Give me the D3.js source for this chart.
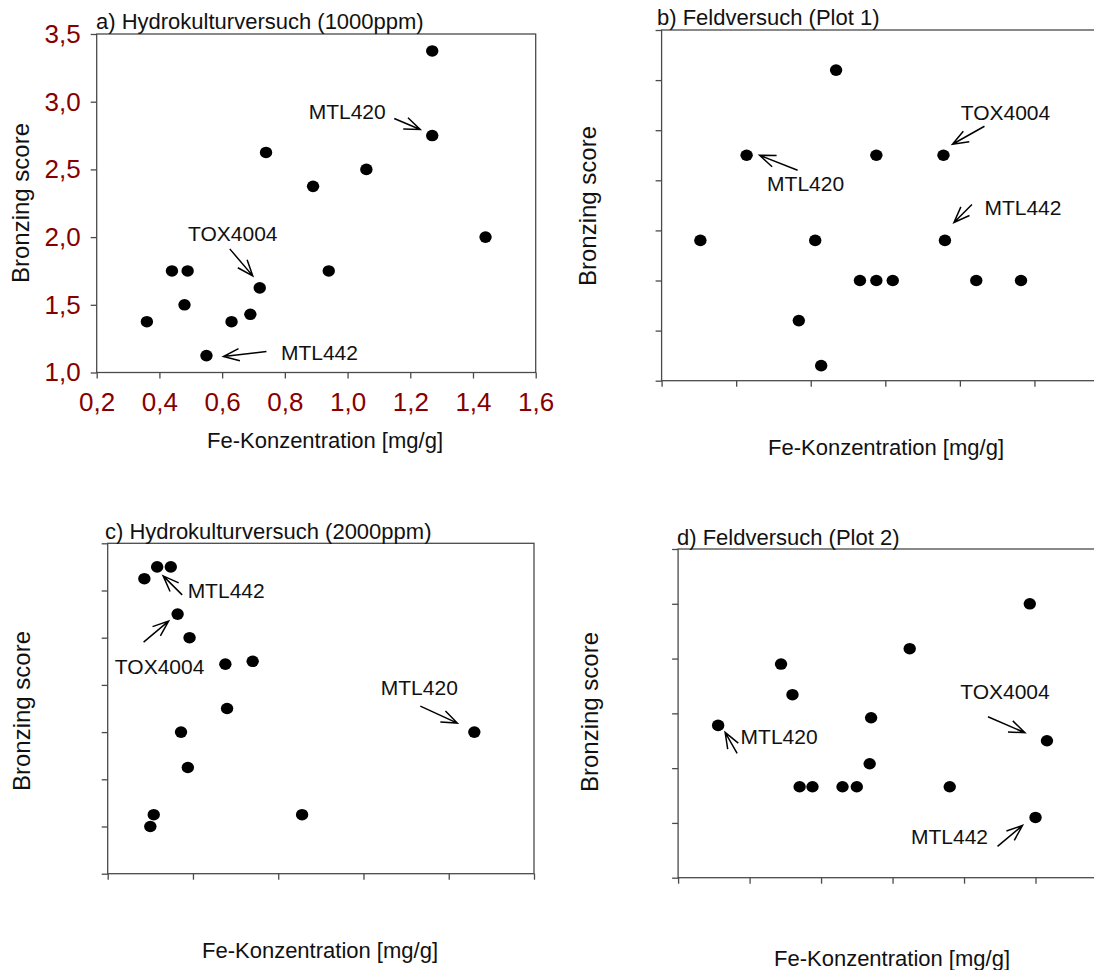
<!DOCTYPE html>
<html>
<head>
<meta charset="utf-8">
<script src="https://cdn.jsdelivr.net/npm/d3@7"></script>
<style>
  body { margin: 0; background: #fff; }
  svg text { font-family: "Liberation Sans", Arial, sans-serif; fill: #111; }
</style>
</head>
<body>
<svg id="chart" width="1094" height="970"></svg>
<script>
/* ===================================
 *  DATA
 * =================================== */
// a) Hydrokulturversuch (1000ppm)
const aFe    = [1.27, 1.27, 0.74, 1.06, 0.89, 1.44, 0.94, 0.44, 0.49, 0.72, 0.48, 0.69, 0.36, 0.63, 0.55];
const aScore = [3.375, 2.75, 2.625, 2.5, 2.375, 2.0, 1.75, 1.75, 1.75, 1.625, 1.5, 1.43, 1.375, 1.375, 1.125];

// b) Feldversuch (Plot 1)
const bFe    = [1.17, 0.57, 1.44, 1.89, 0.26, 1.03, 1.90, 1.33, 1.44, 1.55, 2.11, 2.41, 0.92, 1.07];
const bScore = [4.1, 3.25, 3.25, 3.25, 2.4, 2.4, 2.4, 2.0, 2.0, 2.0, 2.0, 2.0, 1.6, 1.15];

// c) Hydrokulturversuch (2000ppm)
const cFe    = [0.215, 0.29, 0.37, 0.41, 0.48, 0.69, 0.85, 0.70, 0.43, 2.15, 0.47, 0.27, 0.25, 1.14];
const cScore = [4.125, 4.25, 4.25, 3.75, 3.5, 3.22, 3.25, 2.75, 2.5, 2.5, 2.125, 1.625, 1.5, 1.625];

// d) Feldversuch (Plot 2)
const dFe    = [2.46, 1.62, 0.72, 0.80, 1.35, 0.28, 2.58, 1.34, 0.85, 0.94, 1.15, 1.25, 1.90, 2.50];
const dScore = [3.5, 3.09, 2.95, 2.67, 2.46, 2.39, 2.25, 2.04, 1.83, 1.83, 1.83, 1.83, 1.83, 1.55];

// tick values (only panel a has printed labels)
const aXTicks = [0.2, 0.4, 0.6, 0.8, 1.0, 1.2, 1.4, 1.6];
const aYTicks = [1.0, 1.5, 2.0, 2.5, 3.0, 3.5];
const aXTickLabels = ["0,2", "0,4", "0,6", "0,8", "1,0", "1,2", "1,4", "1,6"];
const aYTickLabels = ["1,0", "1,5", "2,0", "2,5", "3,0", "3,5"];
const bXTicks = [0, 0.5, 1.0, 1.5, 2.0, 2.5, 3.0];
const bYTicks = [1.0, 1.5, 2.0, 2.5, 3.0, 3.5, 4.0, 4.5];
const cXTicks = [0, 0.5, 1.0, 1.5, 2.0, 2.5];
const cYTicks = [1.0, 1.5, 2.0, 2.5, 3.0, 3.5, 4.0, 4.5];
const dXTicks = [0, 0.5, 1.0, 1.5, 2.0, 2.5, 3.0];
const dYTicks = [1.0, 1.5, 2.0, 2.5, 3.0, 3.5, 4.0];

const titles = [
  "a) Hydrokulturversuch (1000ppm)",
  "b) Feldversuch (Plot 1)",
  "c) Hydrokulturversuch (2000ppm)",
  "d) Feldversuch (Plot 2)"
];
const xTitle = "Fe-Konzentration [mg/g]";
const yTitle = "Bronzing score";

// annotations: label, index of the point, then pixel offsets of tip, tail and text from that point
const aNotes = [
  { label: "MTL420", idx: 1, tip: [-12, -6], tail: [-38, -17], text: [-85, -24] },
  { label: "TOX4004", idx: 9, tip: [-7, -12], tail: [-30, -39], text: [-27, -54] },
  { label: "MTL442", idx: 14, tip: [17, 1], tail: [60, -4], text: [113, -3] }
];
const bNotes = [
  { label: "MTL420", idx: 1, tip: [13, 0], tail: [51, 15], text: [59, 28] },
  { label: "TOX4004", idx: 3, tip: [9, -11], tail: [41, -29], text: [62, -43] },
  { label: "MTL442", idx: 6, tip: [9, -18], tail: [27, -36], text: [78, -33] }
];
const cNotes = [
  { label: "MTL442", idx: 1, tip: [6, 9], tail: [25, 28], text: [69, 24] },
  { label: "TOX4004", idx: 3, tip: [-9, 7], tail: [-34, 28], text: [-18, 53] },
  { label: "MTL420", idx: 9, tip: [-17, -9], tail: [-54, -26], text: [-55, -44] }
];
const dNotes = [
  { label: "MTL420", idx: 5, tip: [7, 7], tail: [19, 28], text: [61, 11] },
  { label: "TOX4004", idx: 6, tip: [-22, -8], tail: [-59, -24], text: [-42, -49] },
  { label: "MTL442", idx: 13, tip: [-13, 8], tail: [-38, 29], text: [-86, 19] }
];

/* ===================================
 *  LAYOUT
 * =================================== */
const panels = [
  { fe: aFe, score: aScore, xTicks: aXTicks, yTicks: aYTicks, xLabels: aXTickLabels, yLabels: aYTickLabels,
    notes: aNotes, title: titles[0], box: { l: 96.7, r: 535.7, t: 34, b: 372.5 },
    xDom: [0.2, 1.6], yDom: [1.0, 3.5], titlePos: [96, 29], yTitlePos: [21, 203], xTitlePos: [325, 448] },
  { fe: bFe, score: bScore, xTicks: bXTicks, yTicks: bYTicks, xLabels: null, yLabels: null,
    notes: bNotes, title: titles[1], box: { l: 661.6, r: 1109, t: 30, b: 380.7 },
    xDom: [0, 3], yDom: [1.0, 4.5], titlePos: [657, 25], yTitlePos: [588, 206], xTitlePos: [886, 455] },
  { fe: cFe, score: cScore, xTicks: cXTicks, yTicks: cYTicks, xLabels: null, yLabels: null,
    notes: cNotes, title: titles[2], box: { l: 107.7, r: 534, t: 543.3, b: 873.7 },
    xDom: [0, 2.5], yDom: [1.0, 4.5], titlePos: [105, 539], yTitlePos: [22, 711], xTitlePos: [320, 958] },
  { fe: dFe, score: dScore, xTicks: dXTicks, yTicks: dYTicks, xLabels: null, yLabels: null,
    notes: dNotes, title: titles[3], box: { l: 678.1, r: 1107, t: 549, b: 877.7 },
    xDom: [0, 3], yDom: [1.0, 4.0], titlePos: [677, 545], yTitlePos: [590, 712], xTitlePos: [892, 966] }
];

const svg = d3.select("#chart");
const axisColor = "#4a4a4a";
const tickColor = "#870000";

/* ===================================
 *  METHODS
 * =================================== */
function drawPanel(p) {
  const x = d3.scaleLinear().domain(p.xDom).range([p.box.l, p.box.r]);
  const y = d3.scaleLinear().domain(p.yDom).range([p.box.b, p.box.t]);
  const g = svg.append("g");

  // frame
  g.append("rect")
    .attr("x", p.box.l).attr("y", p.box.t)
    .attr("width", p.box.r - p.box.l).attr("height", p.box.b - p.box.t)
    .attr("fill", "none").attr("stroke", axisColor).attr("stroke-width", 1.3);

  const xAxis = d3.axisBottom(x).tickValues(p.xTicks).tickSize(6).tickPadding(14)
    .tickFormat((d, i) => (p.xLabels ? p.xLabels[i] : ""));
  const yAxis = d3.axisLeft(y).tickValues(p.yTicks).tickSize(6).tickPadding(10)
    .tickFormat((d, i) => (p.yLabels ? p.yLabels[i] : ""));

  const gx = g.append("g").attr("transform", `translate(0,${p.box.b})`).call(xAxis);
  const gy = g.append("g").attr("transform", `translate(${p.box.l},0)`).call(yAxis);

  [gx, gy].forEach((ax) => {
    ax.select(".domain").remove();
    ax.selectAll(".tick line").attr("stroke", axisColor).attr("stroke-width", 1.3);
    ax.selectAll(".tick text")
      .style("font-family", '"Liberation Sans", Arial, sans-serif')
      .style("font-size", "26px")
      .style("fill", tickColor);
  });

  // title
  g.append("text")
    .attr("x", p.titlePos[0]).attr("y", p.titlePos[1])
    .style("font-size", "22px")
    .text(p.title);

  // axis titles
  g.append("text")
    .attr("x", p.xTitlePos[0]).attr("y", p.xTitlePos[1])
    .attr("text-anchor", "middle")
    .style("font-size", "22px")
    .text(xTitle);

  g.append("text")
    .attr("transform", `translate(${p.yTitlePos[0]},${p.yTitlePos[1]}) rotate(-90)`)
    .attr("text-anchor", "middle")
    .attr("dy", "0.35em")
    .style("font-size", "24px")
    .text(yTitle);

  // points
  g.selectAll("ellipse.pt")
    .data(p.fe.map((v, i) => ({ fe: v, score: p.score[i] })))
    .enter()
    .append("ellipse")
    .attr("class", "pt")
    .attr("cx", (d) => x(d.fe))
    .attr("cy", (d) => y(d.score))
    .attr("rx", 6.2)
    .attr("ry", 5.8)
    .attr("fill", "#000");

  // annotations
  p.notes.forEach((n) => {
    const px = x(p.fe[n.idx]);
    const py = y(p.score[n.idx]);
    const tip = [px + n.tip[0], py + n.tip[1]];
    const tail = [px + n.tail[0], py + n.tail[1]];
    const ang = Math.atan2(tip[1] - tail[1], tip[0] - tail[0]);
    const headLen = 17;
    const spread = (21 * Math.PI) / 180;
    const h1 = [tip[0] - headLen * Math.cos(ang - spread), tip[1] - headLen * Math.sin(ang - spread)];
    const h2 = [tip[0] - headLen * Math.cos(ang + spread), tip[1] - headLen * Math.sin(ang + spread)];

    g.append("path")
      .attr("d", `M${tail[0]},${tail[1]}L${tip[0]},${tip[1]}M${h1[0]},${h1[1]}L${tip[0]},${tip[1]}L${h2[0]},${h2[1]}`)
      .attr("fill", "none")
      .attr("stroke", "#000")
      .attr("stroke-width", 1.5);

    g.append("text")
      .attr("x", px + n.text[0]).attr("y", py + n.text[1])
      .attr("text-anchor", "middle")
      .attr("dy", "0.35em")
      .style("font-size", "21px")
      .text(n.label);
  });
}

panels.forEach(drawPanel);
</script>
</body>
</html>
